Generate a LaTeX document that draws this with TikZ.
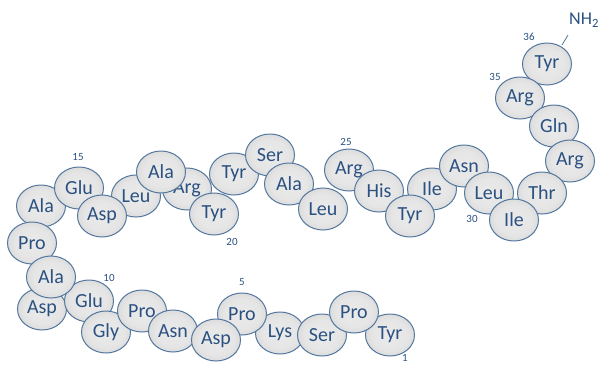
\documentclass[tikz,border=0pt]{standalone}
\usepackage{fontspec}
\setmainfont{Carlito}
\usetikzlibrary{shapes.geometric}
\definecolor{beadline}{HTML}{54789F}
\definecolor{txt}{HTML}{2B5181}
\pgfdeclareradialshading{beadshade}{\pgfpoint{0bp}{0bp}}{color(0bp)=(black!8); color(18bp)=(black!10); color(50bp)=(black!26); color(70bp)=(black!26)}
\begin{document}
\begin{tikzpicture}[x=1pt,y=-1pt,
  bead/.style={ellipse, draw=beadline, line width=1.0pt, shading=beadshade,
    minimum width=49pt, minimum height=42pt, inner sep=0pt, font=\fontsize{20}{20}\selectfont, text=txt},
  num/.style={font=\fontsize{11}{11}\selectfont, text=txt, inner sep=0pt}]
\useasboundingbox (0,0) rectangle (600,365);
% draw order: bottom first
\node[bead] (n36) at (547,64) {Tyr};
\node[bead] (n35) at (520,98) {Arg};
\node[bead] (n34) at (554,126) {Gln};
\node[bead] (n33) at (570,161) {Arg};
\node[bead] (n32) at (542,193) {Thr};
\node[bead] (n28) at (432,189) {Ile};
\node[bead] (n29) at (464,166) {Asn};
\node[bead] (n30) at (489,193) {Leu};
\node[bead] (n31) at (514,220) {Ile};
\node[bead] (n25) at (349,170) {Arg};
\node[bead] (n26) at (379,191) {His};
\node[bead] (n27) at (410,216) {Tyr};
\node[bead] (n21) at (234,174) {Tyr};
\node[bead] (n22) at (270,155) {Ser};
\node[bead] (n23) at (289,184) {Ala};
\node[bead] (n24) at (323,209) {Leu};
\node[bead] (n19) at (187,189) {Arg};
\node[bead] (n17) at (136,196) {Leu};
\node[bead] (n18) at (161,172) {Ala};
\node[bead] (n20) at (214,214) {Tyr};
\node[bead] (n14) at (41,206) {Ala};
\node[bead] (n15) at (79,188) {Glu};
\node[bead] (n16) at (102,216) {Asp};
\node[bead] (n13) at (32,243) {Pro};
\node[bead] (n11) at (42,309) {Asp};
\node[bead] (n10) at (89,301) {Glu};
\node[bead] (n12) at (51,277) {Ala};
\node[bead] (n9) at (106,332) {Gly};
\node[bead] (n8) at (142,311) {Pro};
\node[bead] (n7) at (173,331) {Asn};
\node[bead] (n4) at (280,333) {Lys};
\node[bead] (n5) at (242,314) {Pro};
\node[bead] (n6) at (216,340) {Asp};
\node[bead] (n3) at (322,335) {Ser};
\node[bead] (n1) at (390,335) {Tyr};
\node[bead] (n2) at (354,312) {Pro};
% residue numbers
\node[num] (l1) at (405,358) {1};
\node[num] (l5) at (242,282) {5};
\node[num] (l10) at (109,278) {10};
\node[num] (l15) at (78,157) {15};
\node[num] (l20) at (232,242) {20};
\node[num] (l25) at (346,142) {25};
\node[num] (l30) at (472,219) {30};
\node[num] (l35) at (495,77) {35};
\node[num] (l36) at (529,37) {36};
% C-terminal amide
\node[font=\fontsize{18}{18}\selectfont, text=txt, inner sep=0pt, anchor=west] (nh2) at (569,20) {NH$_{\mathrm{2}}$};
\coordinate (nhend) at (568,35);
\path (n36) ++(15,-19) coordinate (nhstart);
\draw[beadline, line width=0.8pt] (nhstart) -- (nhend);
\end{tikzpicture}
\end{document}
